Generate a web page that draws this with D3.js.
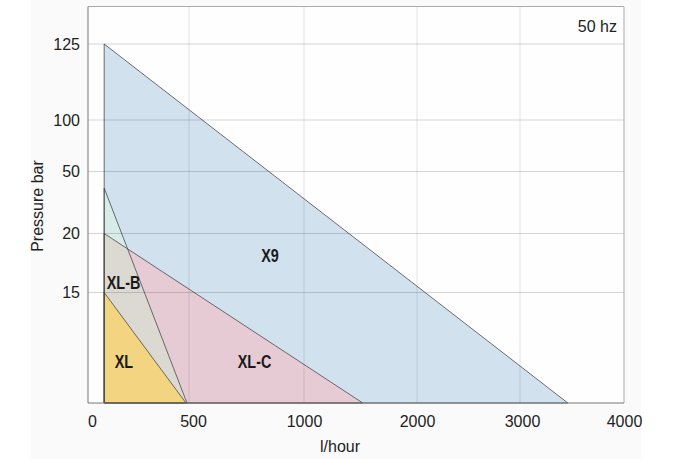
<!DOCTYPE html>
<html>
<head>
<meta charset="utf-8">
<script src="https://cdn.jsdelivr.net/npm/d3@7"></script>
<style>
  html, body { margin: 0; padding: 0; background: #ffffff; }
  svg { display: block; }
</style>
</head>
<body>
<script>
// ---------- DATA ----------
const xTickValues = [0, 500, 1000, 2000, 3000, 4000];
const yTickValues = [15, 20, 50, 100, 125];

const pumpNames = ["X9", "XL-C", "XL-B", "XL"];
// polygon vertices [flow l/hour, pressure bar]
const x9Outline  = [[80, 0], [80, 125], [3460, 0]];
const xlcOutline = [[80, 0], [80, 20], [1520, 0]];
const xlbOutline = [[80, 0], [80, 42], [490, 0]];
const xlOutline  = [[80, 0], [80, 15], [485, 0]];
// label anchors [flow, pressure]
const labelAnchors = [[852, 17.6], [785, 4.75], [176, 15.3], [178, 4.75]];

const xLabel = "l/hour";
const yLabel = "Pressure bar";
const freqNote = "50 hz";

// ---------- LAYOUT ----------
const W = 678, H = 459;
const L = 88, R = 624, T = 6.5, B = 403;

const svg = d3.select("body").append("svg").attr("width", W).attr("height", H);

// non-linear (piecewise) axes as in the original chart
const x = d3.scaleLinear()
  .domain(xTickValues)
  .range([88, 189, 304, 417, 520, 624]);
const y = d3.scaleLinear()
  .domain([0, 15, 20, 50, 100, 125, 140])
  .range([B, 292.5, 233.5, 171.5, 120, 44, T]);

// backgrounds
svg.append("rect").attr("x", 31).attr("y", 0).attr("width", 610).attr("height", H).attr("fill", "#fafafa");
svg.append("rect").attr("x", L).attr("y", T).attr("width", R - L).attr("height", B - T).attr("fill", "#fefefe");

const line = d3.line().x(d => x(d[0])).y(d => y(d[1]));
const poly = pts => line(pts) + "Z";

const fills = { "X9": "#d1e1ee", "XL-C": "#e6cbd5", "XL-B": "#d7ece8", "XL": "#f2d481" };
const outlines = [x9Outline, xlcOutline, xlbOutline, xlOutline];

// clip for XL-B / XL-C overlap
svg.append("defs").append("clipPath").attr("id", "clipC")
  .append("path").attr("d", poly(xlcOutline));

const g = svg.append("g");
outlines.forEach((pts, i) => {
  const name = pumpNames[i];
  g.append("path").attr("d", poly(pts)).attr("fill", fills[name]);
  if (name === "XL-B") {
    g.append("path").attr("d", poly(pts)).attr("fill", "#dcd9d3").attr("clip-path", "url(#clipC)");
  }
});
outlines.forEach((pts) => {
  g.append("path").attr("d", poly(pts)).attr("fill", "none")
    .attr("stroke", "#4a4a4a").attr("stroke-width", 0.8).attr("stroke-linejoin", "round");
});

// grid lines on top (semi-transparent)
const grid = svg.append("g");
grid.selectAll(".hg").data(yTickValues).enter().append("line")
  .attr("x1", L).attr("x2", R).attr("y1", d => y(d)).attr("y2", d => y(d))
  .attr("stroke", "#000").attr("stroke-opacity", 0.16).attr("stroke-width", 1);
grid.selectAll(".vg").data(xTickValues.slice(1, -1)).enter().append("line")
  .attr("y1", T).attr("y2", B).attr("x1", d => x(d)).attr("x2", d => x(d))
  .attr("stroke", "#000").attr("stroke-opacity", 0.1).attr("stroke-width", 1);

// frame
svg.append("path").attr("d", `M${L},${T}H${R}V${B}`).attr("fill", "none").attr("stroke", "#aaa").attr("stroke-width", 1);
svg.append("path").attr("d", `M${L},${T}V${B}H${R}`).attr("fill", "none").attr("stroke", "#777").attr("stroke-width", 1);

// axes (labels only)
const font = "'Liberation Sans', Arial, sans-serif";
const xAxis = svg.append("g").attr("transform", `translate(0,${B})`)
  .call(d3.axisBottom(x).tickValues(xTickValues).tickSize(0).tickPadding(13).tickFormat(d3.format("d")));
const yAxis = svg.append("g").attr("transform", `translate(${L},0)`)
  .call(d3.axisLeft(y).tickValues(yTickValues).tickSize(0).tickPadding(8).tickFormat(d3.format("d")));
[xAxis, yAxis].forEach(a => {
  a.select(".domain").remove();
  a.selectAll("text").attr("font-family", font).attr("font-size", 16).attr("fill", "#222");
});
xAxis.selectAll(".tick text").attr("dx", (d, i) => i < 2 ? 4 : (i === 4 ? 2 : 0));

// axis titles
svg.append("text").attr("x", 340).attr("y", 452).attr("text-anchor", "middle")
  .attr("font-family", font).attr("font-size", 16).attr("fill", "#222").text(xLabel);
svg.append("text").attr("transform", "translate(43,206) rotate(-90)").attr("text-anchor", "middle")
  .attr("font-family", font).attr("font-size", 16).attr("fill", "#222").text(yLabel);
svg.append("text").attr("x", 617).attr("y", 32).attr("text-anchor", "end")
  .attr("font-family", font).attr("font-size", 16).attr("fill", "#222").text(freqNote);

// region labels (condensed bold)
svg.append("g").selectAll("text").data(pumpNames).enter().append("text")
  .attr("transform", (d, i) => `translate(${x(labelAnchors[i][0])},${y(labelAnchors[i][1])}) scale(0.8,1)`)
  .attr("text-anchor", "middle")
  .attr("font-family", font)
  .attr("font-weight", "bold").attr("font-size", 18).attr("fill", "#1a1a1a")
  .text(d => d);
</script>
</body>
</html>
